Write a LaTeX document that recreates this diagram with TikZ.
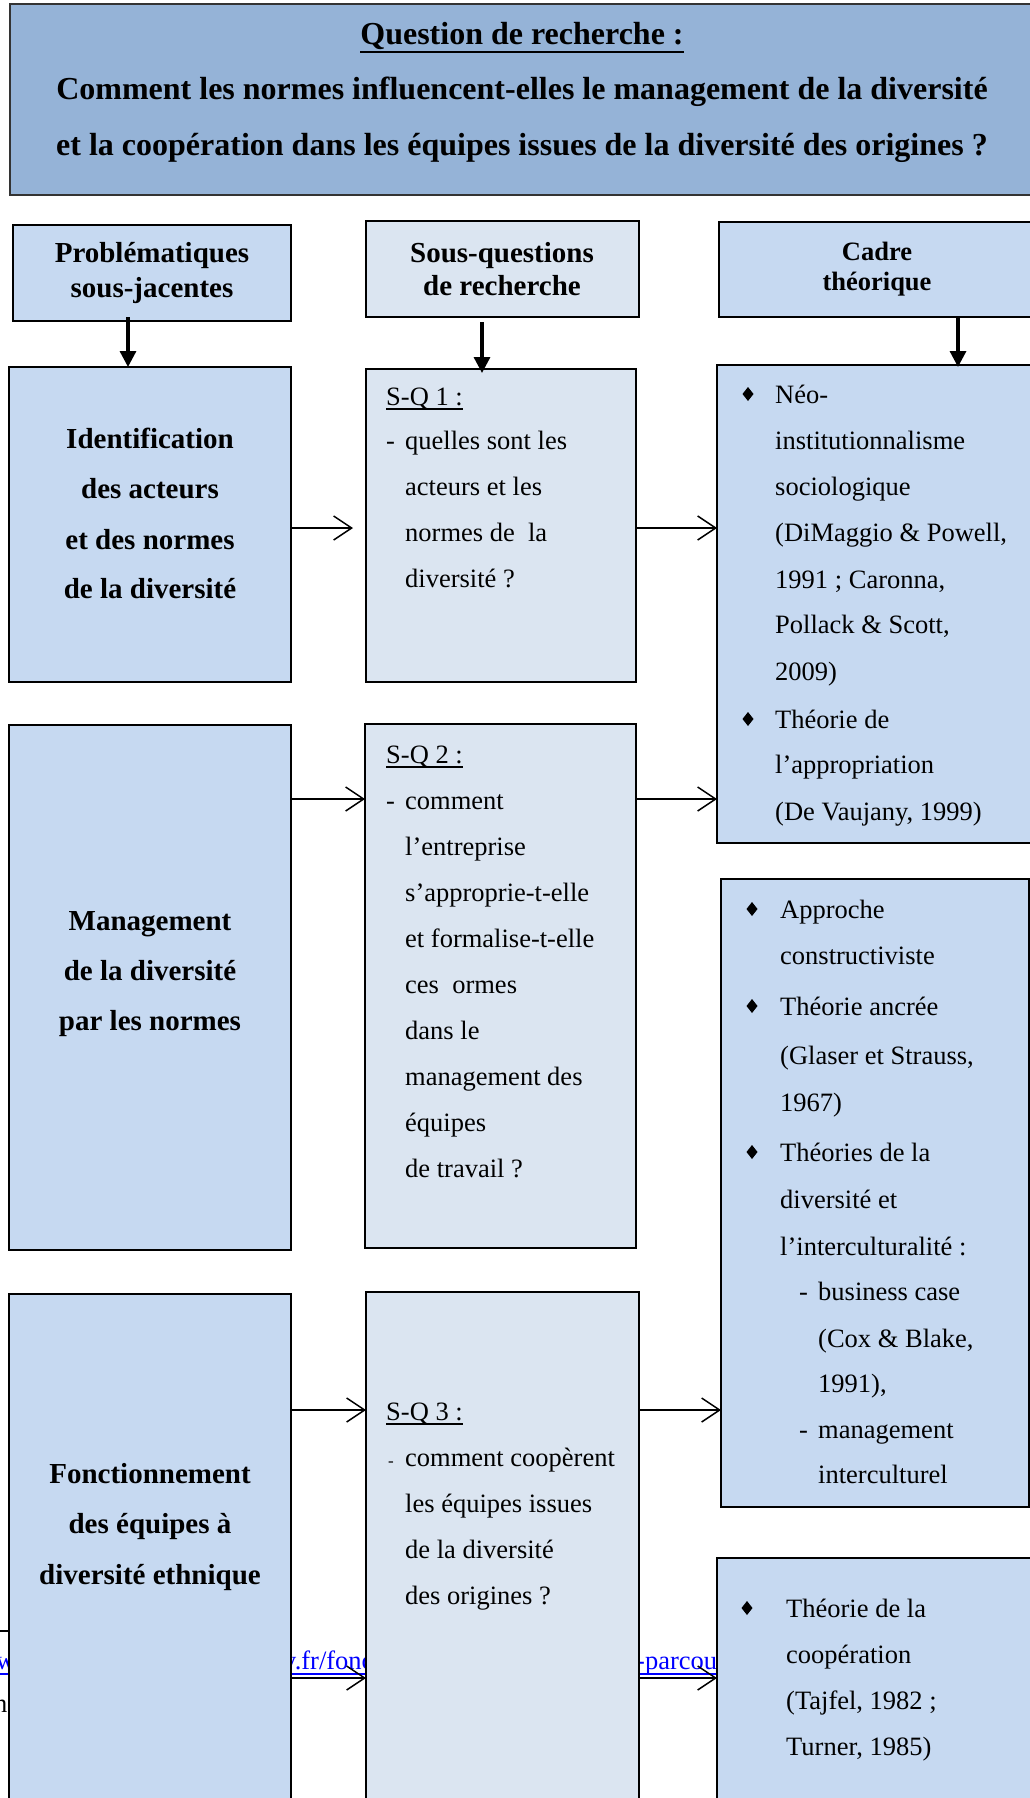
\documentclass[tikz,border=0pt]{standalone}
\usepackage{fontspec}
\setmainfont{Liberation Serif}
\usetikzlibrary{arrows.meta,calc}
\definecolor{titlefill}{HTML}{95B3D7}
\definecolor{boxblue}{HTML}{C6D9F1}
\definecolor{boxpale}{HTML}{DBE5F1}
\definecolor{linkblue}{HTML}{0000FF}
\tikzset{
  box/.style={draw=black, line width=2.2pt, fill=boxblue, anchor=north west, inner sep=0pt, outer sep=0pt},
  pbox/.style={box, fill=boxpale},
  bodytxt/.style={anchor=base west, inner sep=0pt, font=\fontsize{26.5}{46}\selectfont},
  linktxt/.style={bodytxt, text=linkblue},
  boldtxt/.style={anchor=base, inner sep=0pt, font=\fontsize{29}{50}\selectfont\bfseries},
  headtxt/.style={anchor=base, inner sep=0pt, font=\fontsize{26.5}{30}\selectfont\bfseries},
  titletxt/.style={anchor=base, inner sep=0pt, font=\fontsize{32}{40}\selectfont\bfseries},
  harrow/.style={line width=1.5pt, -{Straight Barb[length=18pt,width=24pt]}},
  varrow/.style={line width=3.3pt, -{Triangle[length=16pt,width=16pt]}},
  uline/.style={line width=1.3pt}
}
\newcommand\diam[2]{\fill[black,shift={(#1,#2)}] (-5.5,-9) -- (0,-16) -- (5.5,-9) -- (0,-2) -- cycle;}
\begin{document}
\begin{tikzpicture}[x=1pt,y=-1pt]
\useasboundingbox (0,0) rectangle (1030,1798);
\clip (0,0) rectangle (1030,1798);
\fill[white] (0,0) rectangle (1030,1798);

% footnote remnants behind the boxes
\coordinate (fn0) at (0,1631);
\coordinate (fn1) at (60,1631);
\draw[line width=1.5pt] (fn0) -- (fn1);
\coordinate (ul0) at (0,1674);
\coordinate (ul1) at (1030,1674);
\draw[linkblue, line width=1.5pt] (ul0) -- (ul1);
\node[linktxt] (lk1) at (-4,1669) {w};
\node[linktxt] (lk2) at (283,1669) {y.fr/fonc};
\node[linktxt] (lk3) at (636,1669) {-parcours};
\node[bodytxt] (fn) at (-6,1712) {ns};

% boxes
\node[box, fill=titlefill, draw=black!80, line width=2pt, minimum width=1026pt, minimum height=191pt] (title) at (10,4) {};
\node[box, minimum width=278pt, minimum height=96pt] (h1) at (13,225) {};
\node[pbox, minimum width=273pt, minimum height=96pt] (h2) at (366,221) {};
\node[box, minimum width=317pt, minimum height=95pt] (h3) at (719,222) {};
\node[box, minimum width=282pt, minimum height=315pt] (l1) at (9,367) {};
\node[pbox, minimum width=270pt, minimum height=313pt] (m1) at (366,369) {};
\node[box, minimum width=319pt, minimum height=478pt] (r1) at (717,365) {};
\node[box, minimum width=282pt, minimum height=525pt] (l2) at (9,725) {};
\node[pbox, minimum width=271pt, minimum height=524pt] (m2) at (365,724) {};
\node[box, minimum width=308pt, minimum height=628pt] (r2) at (721,879) {};
\node[box, minimum width=282pt, minimum height=520pt] (l3) at (9,1294) {};
\node[pbox, minimum width=273pt, minimum height=520pt] (m3) at (366,1292) {};
\node[box, minimum width=319pt, minimum height=260pt] (r3) at (717,1558) {};

% title text
\node[titletxt] (tq) at (522,45) {Question de recherche :};
\draw[line width=2.5pt] ([yshift=-7pt]tq.base west) -- ([yshift=-7pt]tq.base east);
\node[titletxt] (t2) at (522,100) {Comment les normes influencent-elles le management de la diversité};
\node[titletxt] (t3) at (522,156) {et la coopération dans les équipes issues de la diversité des origines ?};

% headers
\node[boldtxt] (h1a) at (152,262) {Problématiques};
\node[boldtxt] (h1b) at (152,297) {sous-jacentes};
\node[boldtxt] (h2a) at (502,262) {Sous-questions};
\node[boldtxt] (h2b) at (502,295) {de recherche};
\node[headtxt] (h3a) at (877,260) {Cadre};
\node[headtxt] (h3b) at (877,290) {théorique};

% left column
\node[boldtxt] (l1a) at (150,448) {Identification};
\node[boldtxt] (l1b) at (150,498) {des acteurs};
\node[boldtxt] (l1c) at (150,549) {et des normes};
\node[boldtxt] (l1d) at (150,598) {de la diversité};
\node[boldtxt] (l2a) at (150,930) {Management};
\node[boldtxt] (l2b) at (150,980) {de la diversité};
\node[boldtxt] (l2c) at (150,1030) {par les normes};
\node[boldtxt] (l3a) at (150,1483) {Fonctionnement};
\node[boldtxt] (l3b) at (150,1533) {des équipes à};
\node[boldtxt] (l3c) at (150,1584) {diversité ethnique};

% middle column
\node[bodytxt] (sq1) at (386,405) {S-Q 1 :};
\draw[uline] ([yshift=-4pt]sq1.base west) -- ([yshift=-4pt]sq1.base east);
\node[bodytxt] (m1d) at (386,449) {-};
\node[bodytxt] (m1a) at (405,449) {quelles sont les};
\node[bodytxt] (m1b) at (405,495) {acteurs et les};
\node[bodytxt] (m1c) at (405,541) {normes de \ la};
\node[bodytxt] (m1e) at (405,587) {diversité ?};

\node[bodytxt] (sq2) at (386,763) {S-Q 2 :};
\draw[uline] ([yshift=-4pt]sq2.base west) -- ([yshift=-4pt]sq2.base east);
\node[bodytxt] (m2d) at (386,809) {-};
\node[bodytxt] (m2a) at (405,809) {comment};
\node[bodytxt] (m2b) at (405,855) {l’entreprise};
\node[bodytxt] (m2c) at (405,901) {s’approprie-t-elle};
\node[bodytxt] (m2e) at (405,947) {et formalise-t-elle};
\node[bodytxt] (m2f) at (405,993) {ces \ ormes};
\node[bodytxt] (m2g) at (405,1039) {dans le};
\node[bodytxt] (m2h) at (405,1085) {management des};
\node[bodytxt] (m2i) at (405,1131) {équipes};
\node[bodytxt] (m2j) at (405,1177) {de travail ?};

\node[bodytxt] (sq3) at (386,1420) {S-Q 3 :};
\draw[uline] ([yshift=-4pt]sq3.base west) -- ([yshift=-4pt]sq3.base east);
\node[bodytxt, font=\fontsize{17}{20}\selectfont] (m3d) at (388,1466) {-};
\node[bodytxt] (m3a) at (405,1466) {comment coopèrent};
\node[bodytxt] (m3b) at (405,1512) {les équipes issues};
\node[bodytxt] (m3c) at (405,1558) {de la diversité};
\node[bodytxt] (m3e) at (405,1604) {des origines ?};

% right column, box 1
\diam{748}{403}
\node[bodytxt] (r1a) at (775,403) {Néo-};
\node[bodytxt] (r1b) at (775,449) {institutionnalisme};
\node[bodytxt] (r1c) at (775,495) {sociologique};
\node[bodytxt] (r1d) at (775,541) {(DiMaggio \& Powell,};
\node[bodytxt] (r1e) at (775,588) {1991 ; Caronna,};
\node[bodytxt] (r1f) at (775,633) {Pollack \& Scott,};
\node[bodytxt] (r1g) at (775,680) {2009)};
\diam{748}{728}
\node[bodytxt] (r1h) at (775,728) {Théorie de};
\node[bodytxt] (r1i) at (775,773) {l’appropriation};
\node[bodytxt] (r1j) at (775,820) {(De Vaujany, 1999)};

% right column, box 2
\diam{752}{918}
\node[bodytxt] (r2a) at (780,918) {Approche};
\node[bodytxt] (r2b) at (780,964) {constructiviste};
\diam{752}{1015}
\node[bodytxt] (r2c) at (780,1015) {Théorie ancrée};
\node[bodytxt] (r2d) at (780,1064) {(Glaser et Strauss,};
\node[bodytxt] (r2e) at (780,1111) {1967)};
\diam{752}{1161}
\node[bodytxt] (r2f) at (780,1161) {Théories de la};
\node[bodytxt] (r2g) at (780,1208) {diversité et};
\node[bodytxt] (r2h) at (780,1255) {l’interculturalité :};
\node[bodytxt] (r2i0) at (799,1300) {-};
\node[bodytxt] (r2i) at (818,1300) {business case};
\node[bodytxt] (r2j) at (818,1347) {(Cox \& Blake,};
\node[bodytxt] (r2k) at (818,1392) {1991),};
\node[bodytxt] (r2l0) at (799,1438) {-};
\node[bodytxt] (r2l) at (818,1438) {management};
\node[bodytxt] (r2m) at (818,1483) {interculturel};

% right column, box 3
\diam{747}{1617}
\node[bodytxt] (r3a) at (786,1617) {Théorie de la};
\node[bodytxt] (r3b) at (786,1663) {coopération};
\node[bodytxt] (r3c) at (786,1709) {(Tajfel, 1982 ;};
\node[bodytxt] (r3d) at (786,1755) {Turner, 1985)};

% connectors
\coordinate (xa) at (128,0);
\coordinate (xb) at (482,0);
\coordinate (xc) at (958,0);
\draw[varrow] ($(h1.south -| xa)+(0,-4)$) -- (l1.north -| xa);
\draw[varrow] ($(h2.south -| xb)+(0,5)$) -- ($(m1.north -| xb)+(0,4)$);
\draw[varrow] (h3.south -| xc) -- ($(r1.north -| xc)+(0,2)$);

\coordinate (ya) at (0,528);
\coordinate (yb) at (0,799);
\coordinate (yc) at (0,1410);
\coordinate (yd) at (0,1678);
\draw[harrow, shorten >=13pt] (l1.east |- ya) -- (m1.west |- ya);
\draw[harrow] (m1.east |- ya) -- (r1.west |- ya);
\draw[harrow] (l2.east |- yb) -- (m2.west |- yb);
\draw[harrow] (m2.east |- yb) -- (r1.west |- yb);
\draw[harrow] (l3.east |- yc) -- (m3.west |- yc);
\draw[harrow] (m3.east |- yc) -- (r2.west |- yc);
\draw[harrow] (l3.east |- yd) -- (m3.west |- yd);
\draw[harrow] (m3.east |- yd) -- (r3.west |- yd);
\end{tikzpicture}
\end{document}
